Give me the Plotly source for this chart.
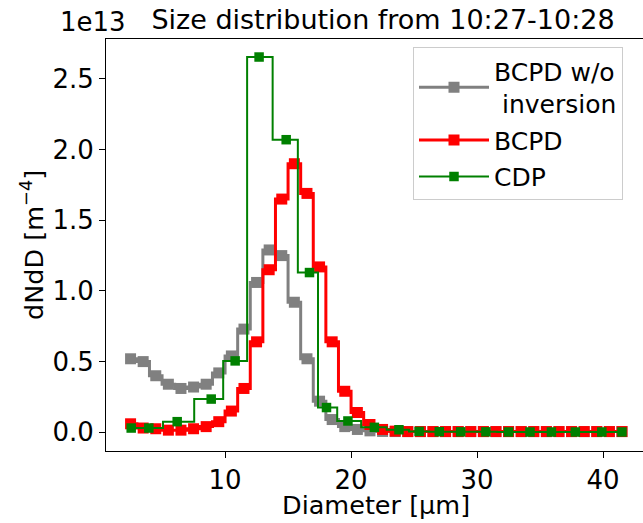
import plotly.graph_objects as go

# ---- data (values in units of 1e13 m^-4) ----
diam_bcpd = [2.5, 3.5, 4.5, 5.5, 6.5, 7.5, 8.5, 9.5, 10.5, 11.5,
             12.5, 13.5, 14.5, 15.5, 16.5, 17.5, 18.5, 19.5, 20.5, 21.5,
             22.5, 23.5, 24.5, 25.5, 26.5, 27.5, 28.5, 29.5, 30.5, 31.5,
             32.5, 33.5, 34.5, 35.5, 36.5, 37.5, 38.5, 39.5, 40.5, 41.5]
bcpd_noinv = [0.52, 0.50, 0.40, 0.34, 0.31, 0.32, 0.34, 0.42, 0.54, 0.73,
              1.06, 1.29, 1.25, 0.92, 0.52, 0.22, 0.09, 0.04, 0.02, 0.01,
              0.006, 0.005, 0.005, 0.005, 0.005, 0.005, 0.005, 0.005, 0.005, 0.005,
              0.005, 0.005, 0.005, 0.005, 0.005, 0.005, 0.005, 0.005, 0.005, 0.005]
bcpd = [0.06, 0.03, 0.025, 0.015, 0.015, 0.025, 0.04, 0.075, 0.15, 0.31,
        0.64, 1.15, 1.65, 1.90, 1.69, 1.17, 0.64, 0.29, 0.14, 0.055,
        0.02, 0.008, 0.005, 0.005, 0.005, 0.005, 0.005, 0.005, 0.005, 0.005,
        0.005, 0.005, 0.005, 0.005, 0.005, 0.005, 0.005, 0.005, 0.005, 0.005]
diam_cdp = [2.55, 3.95, 6.2, 8.9, 10.8, 12.7, 14.85, 16.7, 18.05, 19.75,
            21.85, 23.8, 25.4, 27.0, 28.7, 30.7, 32.5, 34.2, 35.9, 37.8,
            39.9, 41.5]
cdp = [0.03, 0.03, 0.075, 0.235, 0.505, 2.655, 2.07, 1.13, 0.175, 0.08,
       0.035, 0.018, 0.006, 0.004, 0.003, 0.003, 0.002, 0.002, 0.002, 0.002,
       0.002, 0.002]

yticks = [0.0, 0.5, 1.0, 1.5, 2.0, 2.5]
ytick_labels = ["0.0", "0.5", "1.0", "1.5", "2.0", "2.5"]
xticks = [10, 20, 30, 40]

FONT = "DejaVu Sans"
W, H = 643, 523
L, R, T, B = 106, 0, 38.8, 71.7

fig = go.Figure()
fig.add_trace(go.Scatter(
    x=diam_bcpd, y=bcpd_noinv, mode="lines+markers",
    name="BCPD w/o<br> inversion", legendgroup="g1",
    line=dict(color="#808080", width=3, shape="hvh"),
    marker=dict(symbol="square", size=11, color="#808080")))
fig.add_trace(go.Scatter(
    x=diam_bcpd, y=bcpd, mode="lines+markers", name="BCPD", legendgroup="g2",
    line=dict(color="#ff0000", width=3, shape="hvh"),
    marker=dict(symbol="square", size=11, color="#ff0000")))
fig.add_trace(go.Scatter(
    x=diam_cdp, y=cdp, mode="lines+markers", name="CDP", legendgroup="g3",
    line=dict(color="#008000", width=2, shape="hvh"),
    marker=dict(symbol="square", size=9.5, color="#008000")))

pw = W - L - R
ph = H - T - B

fig.update_layout(
    width=W, height=H,
    margin=dict(l=L, r=R, t=T, b=B, pad=0, autoexpand=False),
    paper_bgcolor="white", plot_bgcolor="white",
    font=dict(family=FONT, size=25, color="black"),
    showlegend=True,
    legend=dict(x=(413 - L) / pw, y=(H - B - 47) / ph, xanchor="left", yanchor="top",
                bordercolor="#cccccc", borderwidth=1, bgcolor="white",
                font=dict(family=FONT, size=25), itemwidth=70, tracegroupgap=1),
    title=dict(text="Size distribution from 10:27-10:28", x=383 / W, xanchor="center",
               y=1 - 20 / H, yanchor="middle", font=dict(family=FONT, size=27)),
    xaxis=dict(range=[0.55, 0.55 + pw / 12.6], tickvals=xticks, ticks="outside",
               ticklen=6, tickwidth=1, tickcolor="black", showline=True, linecolor="black",
               linewidth=1, mirror=True, showgrid=False, zeroline=False,
               tickfont=dict(family=FONT, size=26), automargin=False),
    yaxis=dict(range=[-0.1325, 2.7825], tickvals=yticks, ticktext=ytick_labels,
               ticks="outside", ticklen=6, tickwidth=1, tickcolor="black",
               showline=True, linecolor="black", linewidth=1, mirror=False,
               showgrid=False, zeroline=False, tickfont=dict(family=FONT, size=26),
               automargin=False),
    annotations=[
        dict(text="1e13", xref="paper", yref="paper", x=(92.5 - L) / pw,
             y=(H - B - 22) / ph, xanchor="center", yanchor="middle",
             showarrow=False, font=dict(family=FONT, size=26)),
        dict(text="Diameter [µm]", xref="paper", yref="paper", x=(376 - L) / pw,
             y=(H - B - 505) / ph, xanchor="center", yanchor="middle",
             showarrow=False, font=dict(family=FONT, size=25.5)),
        dict(text="dNdD [m<sup>−4</sup>]", xref="paper", yref="paper", x=(32 - L) / pw,
             y=0.5, xanchor="center", yanchor="middle", textangle=-90,
             showarrow=False, font=dict(family=FONT, size=25.5)),
    ],
)

fig.write_html("out.html", config={"displayModeBar": False},
               post_script="document.body.style.margin='0';document.body.style.overflow='hidden';")
